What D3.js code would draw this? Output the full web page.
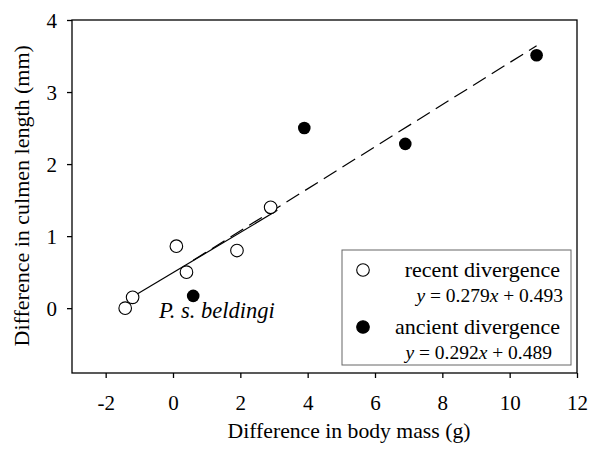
<!DOCTYPE html>
<html>
<head>
<meta charset="utf-8">
<script src="https://cdn.jsdelivr.net/npm/d3@7"></script>
<style>
  body { margin: 0; background: #fff; }
</style>
</head>
<body>
<div id="chart"></div>
<script>
// recent divergence (open circles)
var recentX = [-1.42, -1.2, 0.1, 0.4, 1.9, 2.9],
    recentY = [0.0, 0.15, 0.86, 0.5, 0.8, 1.4];
// ancient divergence (filled circles)
var ancientX = [0.6, 3.9, 6.9, 10.8],
    ancientY = [0.17, 2.5, 2.28, 3.51];
// regression fits
var recentFit = {slope: 0.279, icept: 0.493, from: -1.1, to: 3.1},
    ancientFit = {slope: 0.292, icept: 0.489, from: 0.6, to: 10.8};
var xTicks = [-2, 0, 2, 4, 6, 8, 10, 12],
    yTicks = [0, 1, 2, 3, 4];

var FONT = "'Liberation Serif'";

var margin = {top: 20, right: 13, bottom: 77, left: 72},
    width = 590 - margin.left - margin.right,
    height = 450 - margin.top - margin.bottom;

var x = d3.scaleLinear().domain([-3, 12]).range([0, width]);
var y = d3.scaleLinear().domain([-0.9, 4]).range([height, 0]);

var root = d3.select("#chart").append("svg")
    .attr("width", 590)
    .attr("height", 450);
var svg = root.append("g")
    .attr("transform", "translate(" + margin.left + "," + margin.top + ")");

// frame
svg.append("rect")
    .attr("width", width)
    .attr("height", height)
    .attr("fill", "none")
    .attr("stroke", "#000")
    .attr("stroke-width", 1.3);

var fmt = function(d) { return String(d); };
var xAxis = svg.append("g")
    .attr("transform", "translate(0," + height + ")")
    .call(d3.axisBottom(x).tickValues(xTicks).tickSize(5).tickPadding(17).tickFormat(fmt));
var yAxis = svg.append("g")
    .call(d3.axisLeft(y).tickValues(yTicks).tickSize(5).tickPadding(10).tickFormat(fmt));

[xAxis, yAxis].forEach(function(a) {
  a.attr("font-family", null).attr("font-size", null);
  a.select(".domain").remove();
  a.selectAll("line").attr("stroke", "#000").attr("stroke-width", 1.3);
  a.selectAll("text").style("font-size", "21px").style("font-family", FONT).attr("fill", "#000");
});
yAxis.selectAll("text").attr("dy", "0.34em");

svg.append("text")
    .attr("x", 349 - margin.left)
    .attr("y", 438 - margin.top)
    .attr("text-anchor", "middle")
    .style("font-family", FONT)
    .style("font-size", "21.7px")
    .text("Difference in body mass (g)");

svg.append("text")
    .attr("transform", "translate(" + (29 - margin.left) + "," + y(1.56) + ") rotate(-90)")
    .attr("text-anchor", "middle")
    .style("font-family", FONT)
    .style("font-size", "22px")
    .text("Difference in culmen length (mm)");

function fitLine(f) {
  return [[f.from, f.slope * f.from + f.icept], [f.to, f.slope * f.to + f.icept]];
}
var line = d3.line().x(function(d) { return x(d[0]); }).y(function(d) { return y(d[1]); });

svg.append("path")
    .attr("d", line(fitLine(recentFit)))
    .attr("fill", "none")
    .attr("stroke", "#000")
    .attr("stroke-width", 1.2);

svg.append("path")
    .attr("d", line(fitLine(ancientFit)))
    .attr("fill", "none")
    .attr("stroke", "#000")
    .attr("stroke-width", 1.2)
    .attr("stroke-dasharray", "15,7");

svg.selectAll(".recent")
    .data(d3.range(recentX.length))
  .enter().append("circle")
    .attr("class", "recent")
    .attr("cx", function(i) { return x(recentX[i]); })
    .attr("cy", function(i) { return y(recentY[i]); })
    .attr("r", 6.3)
    .attr("fill", "#fff")
    .attr("stroke", "#000")
    .attr("stroke-width", 1.1);

svg.selectAll(".ancient")
    .data(d3.range(ancientX.length))
  .enter().append("circle")
    .attr("class", "ancient")
    .attr("cx", function(i) { return x(ancientX[i]); })
    .attr("cy", function(i) { return y(ancientY[i]); })
    .attr("r", 6.3)
    .attr("fill", "#000");

svg.append("text")
    .attr("x", 159 - margin.left)
    .attr("y", 318 - margin.top)
    .style("font-family", FONT)
    .style("font-size", "22.5px")
    .style("font-style", "italic")
    .text("P. s. beldingi");

// legend
var lg = svg.append("g").attr("transform", "translate(" + (342 - margin.left) + "," + (250 - margin.top) + ")");
lg.append("rect")
    .attr("width", 229)
    .attr("height", 115)
    .attr("fill", "#fff")
    .attr("stroke", "#666")
    .attr("stroke-width", 1);

var legendRows = [
  {label: "recent divergence", eq: "0.279", b: "0.493", filled: false, eqRight: 221},
  {label: "ancient divergence", eq: "0.292", b: "0.489", filled: true, eqRight: 210}
];
legendRows.forEach(function(r, i) {
  var oy = i * 57;
  lg.append("circle")
      .attr("cx", 21)
      .attr("cy", 20 + oy)
      .attr("r", 6.3)
      .attr("fill", r.filled ? "#000" : "#fff")
      .attr("stroke", "#000")
      .attr("stroke-width", 1.1);
  lg.append("text")
      .attr("x", 218)
      .attr("y", 27 + oy)
      .attr("text-anchor", "end")
      .style("font-family", FONT)
      .style("font-size", "22px")
      .text(r.label);
  var t = lg.append("text")
      .attr("x", r.eqRight)
      .attr("y", 52 + oy)
      .attr("text-anchor", "end")
      .style("font-family", FONT)
      .style("font-size", "19.5px");
  t.append("tspan").style("font-style", "italic").text("y");
  t.append("tspan").text(" = " + r.eq);
  t.append("tspan").style("font-style", "italic").text("x");
  t.append("tspan").text(" + " + r.b);
});
</script>
</body>
</html>
